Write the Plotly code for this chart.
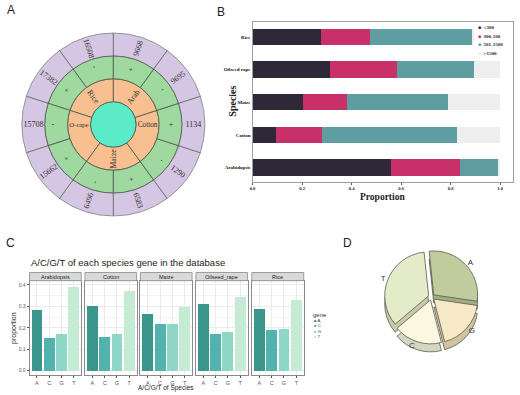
import plotly.graph_objects as go

W, H = 520, 395

# ---------------- Panel A data (sunburst) ----------------
species_short = ["Arab", "Cotton", "Maize", "O-rape", "Rice"]
strand_labels = ["+", "-"]
gene_counts = [[9668, 9695], [1134, 1290], [6583, 6496], [15662, 15708], [17382, 16508]]

# ---------------- Panel B data (stacked bars) ----------------
b_species = ["Arabidopsis", "Cotton", "Maize", "Oilseed rape", "Rice"]
len_bins = ["<300", "300-500", "501-1500", ">1500"]
lt300 = [0.558, 0.096, 0.203, 0.313, 0.275]
b300_500 = [0.278, 0.184, 0.179, 0.272, 0.199]
b501_1500 = [0.154, 0.547, 0.408, 0.308, 0.412]
gt1500 = [0.010, 0.173, 0.210, 0.107, 0.114]
b_ticks = [0.0, 0.2, 0.4, 0.6, 0.8, 1.0]

# ---------------- Panel C data (faceted bars) ----------------
c_species = ["Arabidopsis", "Cotton", "Maize", "Oilseed_rape", "Rice"]
bases = ["A", "C", "G", "T"]
prop_A = [0.285, 0.300, 0.266, 0.311, 0.288]
prop_C = [0.154, 0.157, 0.219, 0.171, 0.189]
prop_G = [0.172, 0.172, 0.220, 0.179, 0.194]
prop_T = [0.392, 0.374, 0.295, 0.342, 0.331]
c_ticks = [0.0, 0.1, 0.2, 0.3, 0.4]

# ---------------- Panel D data (pie) ----------------
pie_labels = ["A", "G", "C", "T"]
pie_values = [0.290, 0.187, 0.178, 0.345]

# ---------------- styles ----------------
SERIF = "Liberation Serif, Times New Roman, serif"
SANS = "Liberation Sans, Arial, sans-serif"
c_cyan, c_orange, c_green, c_purple = "#5CEBC9", "#F8BF90", "#A0D9A0", "#C4AFD9"
b_colors = ["#2E2838", "#C8306A", "#5F9EA0", "#EEEEEE"]
gene_colors = ["#3A968C", "#52B2AD", "#8ED7C6", "#C6EBD4"]
pie_top = {"A": "#C1CC9E", "G": "#F7E8C8", "C": "#FCF7E0", "T": "#E4EBC8"}
pie_side = {"A": "#A2AC80", "G": "#CFC3A2", "C": "#D5D7C2", "T": "#C4CBA6"}

def px(x):
    return x / W

def py(y):
    return 1 - y / H

fig = go.Figure()

# ---------------- Panel A ----------------
# plotly lays sectors out counter-clockwise, so feed them in reverse to get the clockwise order
ids, labels, parents, values, colors = ["root"], [""], [""], [10], [c_cyan]
for sp, counts in reversed(list(zip(species_short, gene_counts))):
    ids.append(sp); labels.append(sp); parents.append("root"); values.append(2); colors.append(c_orange)
    for st, cnt in reversed(list(zip(strand_labels, counts))):
        sid = sp + "/" + st
        ids.append(sid); labels.append(st); parents.append(sp); values.append(1); colors.append(c_green)
        ids.append(sid + "/n"); labels.append(str(cnt)); parents.append(sid); values.append(1); colors.append(c_purple)

fig.add_trace(go.Sunburst(
    ids=ids, labels=labels, parents=parents, values=values,
    branchvalues="total", sort=False, rotation=90,
    marker=dict(colors=colors, line=dict(color="#4A554A", width=0.8)),
    insidetextorientation="radial",
    insidetextfont=dict(family=SERIF, size=8, color="#333333"),
    textinfo="label", hoverinfo="skip",
    domain=dict(x=[px(19), px(203)], y=[py(216.5), py(32.5)]),
))

# ---------------- Panel B ----------------
for name, vals, col in zip(len_bins, [lt300, b300_500, b501_1500, gt1500], b_colors):
    fig.add_trace(go.Bar(
        y=b_species, x=vals, name=name, orientation="h", width=0.5,
        marker=dict(color=col, line=dict(width=0)), xaxis="x", yaxis="y",
        showlegend=False, hoverinfo="skip",
    ))

# ---------------- Panel C ----------------
c_doms = [(26.7, 78.7), (82.4, 134.4), (138.2, 190.2), (194.0, 246.0), (250.3, 302.5)]
per_species = list(zip(prop_A, prop_C, prop_G, prop_T))
for k, (sp, vals, dom) in enumerate(zip(c_species, per_species, c_doms)):
    n = k + 2
    fig.add_trace(go.Bar(
        x=bases, y=list(vals), width=0.88,
        marker=dict(color=gene_colors, line=dict(width=0)),
        xaxis="x%d" % n, yaxis="y%d" % n, showlegend=False, hoverinfo="skip",
    ))

# ---------------- Panel D ----------------
pie_dom_x = [px(382), px(480)]
for shift, cmap, show in [(8, pie_side, False), (0, pie_top, True)]:
    fig.add_trace(go.Pie(
        labels=pie_labels, values=pie_values, sort=False, direction="clockwise",
        rotation=-6, pull=0.07,
        marker=dict(colors=[cmap[l] for l in pie_labels], line=dict(color="#5A5A50", width=0.8)),
        textinfo="label" if show else "none", textposition="outside",
        textfont=dict(family=SANS, size=8, color="#333333"),
        domain=dict(x=pie_dom_x, y=[py(344 + shift), py(250 + shift)]),
        showlegend=False, hoverinfo="skip",
    ))

layout = dict(
    width=W, height=H, autosize=False,
    margin=dict(l=0, r=0, t=0, b=0),
    paper_bgcolor="white", plot_bgcolor="white",
    barmode="stack", bargap=0.1,
    showlegend=False,
    xaxis=dict(domain=[px(251), px(513)], anchor="y", range=[0, 1.052],
               tickvals=b_ticks, tickformat=".1f", ticks="outside", ticklen=2, tickcolor="#555",
               tickfont=dict(family=SERIF, size=4.5, color="#222", weight="bold"),
               showline=True, mirror=True, linecolor="#A0A0A0", linewidth=1, showgrid=False, zeroline=False),
    yaxis=dict(domain=[py(181.7), py(21.7)], anchor="x", range=[-0.44, 4.47],
               type="category", categoryorder="array", categoryarray=b_species,
               tickfont=dict(family=SERIF, size=5, color="#111", weight="bold"), ticks="", ticklen=0,
               showline=True, mirror=True, linecolor="#A0A0A0", linewidth=1, showgrid=False),
)

shapes, annotations = [], []

# B axis titles
annotations.append(dict(text="Species", xref="paper", yref="paper", x=px(230), y=py(101),
                        textangle=-90, showarrow=False, xanchor="center", yanchor="middle",
                        font=dict(family=SERIF, size=10, color="#222", weight="bold")))
annotations.append(dict(text="Proportion", xref="paper", yref="paper", x=px(382), y=py(197),
                        showarrow=False, xanchor="center", yanchor="middle",
                        font=dict(family=SERIF, size=9.5, color="#222", weight="bold")))

for k, (sp, dom) in enumerate(zip(c_species, c_doms)):
    n = k + 2
    first = (k == 0)
    layout["xaxis%d" % n] = dict(
        domain=[px(dom[0]), px(dom[1])], anchor="y%d" % n, type="category",
        range=[-0.6, 3.6], showgrid=True, gridcolor="#EBEBEB", gridwidth=0.8,
        ticks="outside", ticklen=2, tickcolor="#555",
        tickfont=dict(family=SANS, size=5.5, color="#555"),
        showline=True, mirror=True, linecolor="#8A8A8A", linewidth=0.8, zeroline=False,
    )
    layout["yaxis%d" % n] = dict(
        domain=[py(375), py(280.7)], anchor="x%d" % n, range=[-0.02, 0.42],
        tickvals=c_ticks, tickformat=".1f", showticklabels=first,
        ticks="outside" if first else "", ticklen=2, tickcolor="#555",
        tickfont=dict(family=SANS, size=5, color="#555"),
        showgrid=True, gridcolor="#EBEBEB", gridwidth=0.8,
        minor=dict(showgrid=True, gridcolor="#F5F5F5", dtick=0.05, tick0=0.05),
        showline=True, mirror=True, linecolor="#8A8A8A", linewidth=0.8, zeroline=False,
    )
    shapes.append(dict(type="rect", xref="paper", yref="paper",
                       x0=px(dom[0]), x1=px(dom[1]), y0=py(280.7), y1=py(272.5),
                       fillcolor="#D9D9D9", line=dict(color="#8A8A8A", width=0.8)))
    annotations.append(dict(text=sp, xref="paper", yref="paper",
                            x=px((dom[0] + dom[1]) / 2), y=py(276.6), showarrow=False,
                            xanchor="center", yanchor="middle",
                            font=dict(family=SANS, size=5.5, color="#222")))

annotations.append(dict(text="proportion", xref="paper", yref="paper", x=px(11), y=py(328),
                        textangle=-90, showarrow=False, xanchor="center", yanchor="middle",
                        font=dict(family=SANS, size=7, color="#222")))

# C titles
annotations.append(dict(text="A/C/G/T of each species gene in the database", xref="paper", yref="paper",
                        x=px(26), y=py(262), showarrow=False, xanchor="left", yanchor="middle",
                        font=dict(family=SANS, size=9.5, color="#222")))
annotations.append(dict(text="A/C/G/T of Species", xref="paper", yref="paper",
                        x=px(164), y=py(388), showarrow=False, xanchor="center", yanchor="middle",
                        borderpad=0, font=dict(family=SANS, size=6.5, color="#222")))

# C legend (gene)
annotations.append(dict(text="gene", xref="paper", yref="paper", x=px(310), y=py(315),
                        showarrow=False, xanchor="left", yanchor="middle",
                        font=dict(family=SANS, size=6, color="#333")))
gene_lines = "<br>".join("<span style='color:%s'>■</span> %s" % (col, b) for b, col in zip(bases, gene_colors))
annotations.append(dict(text=gene_lines, xref="paper", yref="paper", x=px(312), y=py(328.5),
                        showarrow=False, xanchor="left", yanchor="middle", align="left", borderpad=0,
                        font=dict(family=SANS, size=4.2, color="#333")))

# B legend
shapes.append(dict(type="rect", xref="paper", yref="paper", x0=px(474), x1=px(512.5),
                   y0=py(58), y1=py(23), fillcolor="white", line=dict(width=0), layer="above"))
for i, (name, col) in enumerate(zip(len_bins, b_colors)):
    txt = name.replace("<", "&lt;").replace(">", "&gt;")
    annotations.append(dict(text="<span style='color:%s'>■</span>&nbsp;&nbsp;%s" % (col, txt),
                            xref="paper", yref="paper", x=px(477), y=py(27.5 + i * 8.6),
                            showarrow=False, xanchor="left", yanchor="middle", borderpad=0,
                            font=dict(family=SERIF, size=5, color="#222", weight="bold")))

# panel letters
for letter, (lx, ly) in zip(["A", "B", "C", "D"], [(8, 10), (219, 12), (8, 243), (346, 243)]):
    annotations.append(dict(text=letter, xref="paper", yref="paper", x=px(lx), y=py(ly),
                            showarrow=False, xanchor="center", yanchor="middle",
                            font=dict(family="Liberation Sans Narrow, Liberation Sans, Arial", size=12, color="#222")))

layout["shapes"] = shapes
layout["annotations"] = annotations
fig.update_layout(**layout)
fig.write_html("out.html", config={"displayModeBar": False},
               post_script="document.body.style.margin='0px';document.body.style.overflow='hidden';")
